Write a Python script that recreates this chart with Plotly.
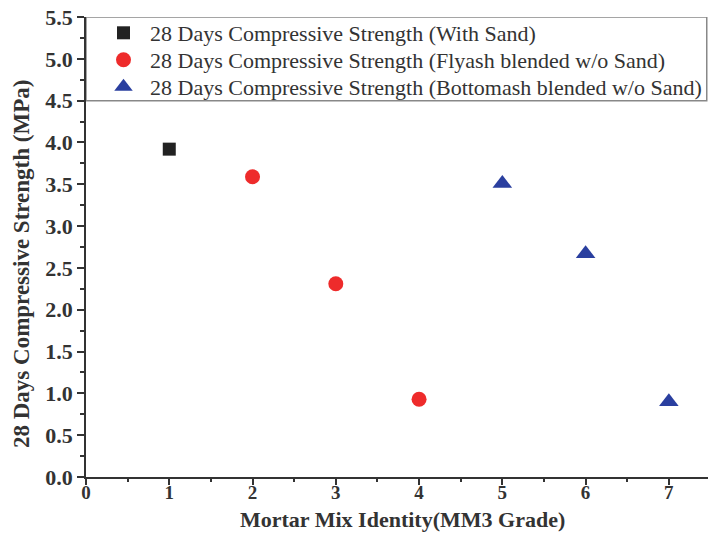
import plotly.graph_objects as go

# Mix identities and 28-day compressive strengths (MPa)
mix_sand = [1]
strength_sand = [3.92]

mix_flyash = [2, 3, 4]
strength_flyash = [3.59, 2.31, 0.93]

mix_bottomash = [5, 6, 7]
strength_bottomash = [3.51, 2.67, 0.90]

series_names = [
    "28 Days Compressive Strength (With Sand)",
    "28 Days Compressive Strength (Flyash blended w/o Sand)",
    "28 Days Compressive Strength (Bottomash blended w/o Sand)",
]

x_ticks = [0, 1, 2, 3, 4, 5, 6, 7]
y_ticks = [0.0, 0.5, 1.0, 1.5, 2.0, 2.5, 3.0, 3.5, 4.0, 4.5, 5.0, 5.5]

serif = "Liberation Serif, Times New Roman, serif"
axis_color = "#333333"
text_color = "#333333"

# Plot area geometry in pixels (used to place titles and legend rows)
W, H = 708, 535
M_L, M_R, M_T, M_B = 86, 0, 17, 58
plot_w = W - M_L - M_R
plot_h = H - M_T - M_B

fig = go.Figure()
fig.add_trace(go.Scatter(
    x=mix_sand, y=strength_sand, mode="markers", name=series_names[0],
    marker=dict(symbol="square", size=13, color="#222222"), legend="legend",
))
fig.add_trace(go.Scatter(
    x=mix_flyash, y=strength_flyash, mode="markers", name=series_names[1],
    marker=dict(symbol="circle", size=15, color="#ee2b2b"), legend="legend2",
))
fig.add_trace(go.Scatter(
    x=mix_bottomash, y=strength_bottomash, mode="markers", name=series_names[2],
    marker=dict(symbol="triangle-up", size=17, color="#2a3f9f"), legend="legend3",
))

# Frame around the legend block at the top of the plot
fig.add_shape(type="rect", xref="paper", yref="y", x0=0, x1=0.998, y0=4.5, y1=5.5,
              line=dict(color="#888888", width=1.5), fillcolor="rgba(0,0,0,0)", layer="below")


def legend_row(center_px):
    # one legend per row (container coordinates) so the row spacing is exact
    return dict(
        xref="container", yref="container",
        x=97 / W, y=1 - center_px / H,
        xanchor="left", yanchor="middle",
        bgcolor="rgba(0,0,0,0)", borderwidth=0,
        font=dict(family=serif, size=22, color=text_color),
        itemwidth=43,
    )


# Axis titles as annotations for precise placement
fig.add_annotation(
    text="<b>Mortar Mix Identity(MM3 Grade)</b>", xref="paper", yref="paper",
    x=(402 - M_L) / plot_w, y=-(519 - (H - M_B)) / plot_h,
    xanchor="center", yanchor="middle", showarrow=False,
    font=dict(family=serif, size=22, color=text_color),
)
fig.add_annotation(
    text="<b>28 Days Compressive Strength (MPa)</b>", xref="paper", yref="paper",
    x=-(M_L - 21) / plot_w, y=1 - (264 - M_T) / plot_h, textangle=-90,
    xanchor="center", yanchor="middle", showarrow=False,
    font=dict(family=serif, size=23, color=text_color),
)

fig.update_layout(
    width=W, height=H,
    margin=dict(l=M_L, r=M_R, t=M_T, b=M_B, autoexpand=False),
    paper_bgcolor="white", plot_bgcolor="white",
    font=dict(family=serif, color=text_color),
    showlegend=True,
    legend=legend_row(33),
    legend2=legend_row(60),
    legend3=legend_row(87),
    xaxis=dict(
        range=[0, 7.47], tickvals=x_ticks, ticktext=[str(v) for v in x_ticks],
        showgrid=False, zeroline=False,
        showline=True, linecolor=axis_color, linewidth=1.5,
        ticks="outside", ticklen=6, tickwidth=1.5, tickcolor=axis_color,
        minor=dict(dtick=0.5, ticks="outside", ticklen=3, tickwidth=1.5, tickcolor=axis_color),
        tickfont=dict(family=serif, size=19, color=text_color, weight="bold"),
        ticklabelstandoff=-9,
        automargin=False,
    ),
    yaxis=dict(
        range=[0, 5.5], tickvals=y_ticks, ticktext=[f"{v:.1f}" for v in y_ticks],
        showgrid=False, zeroline=False,
        showline=True, linecolor=axis_color, linewidth=1.5,
        ticks="outside", ticklen=7, tickwidth=1.5, tickcolor=axis_color,
        minor=dict(dtick=0.25, ticks="outside", ticklen=4, tickwidth=1.5, tickcolor=axis_color),
        tickfont=dict(family=serif, size=22, color=text_color, weight="bold"),
        automargin=False,
    ),
)

fig.write_html("out.html")
